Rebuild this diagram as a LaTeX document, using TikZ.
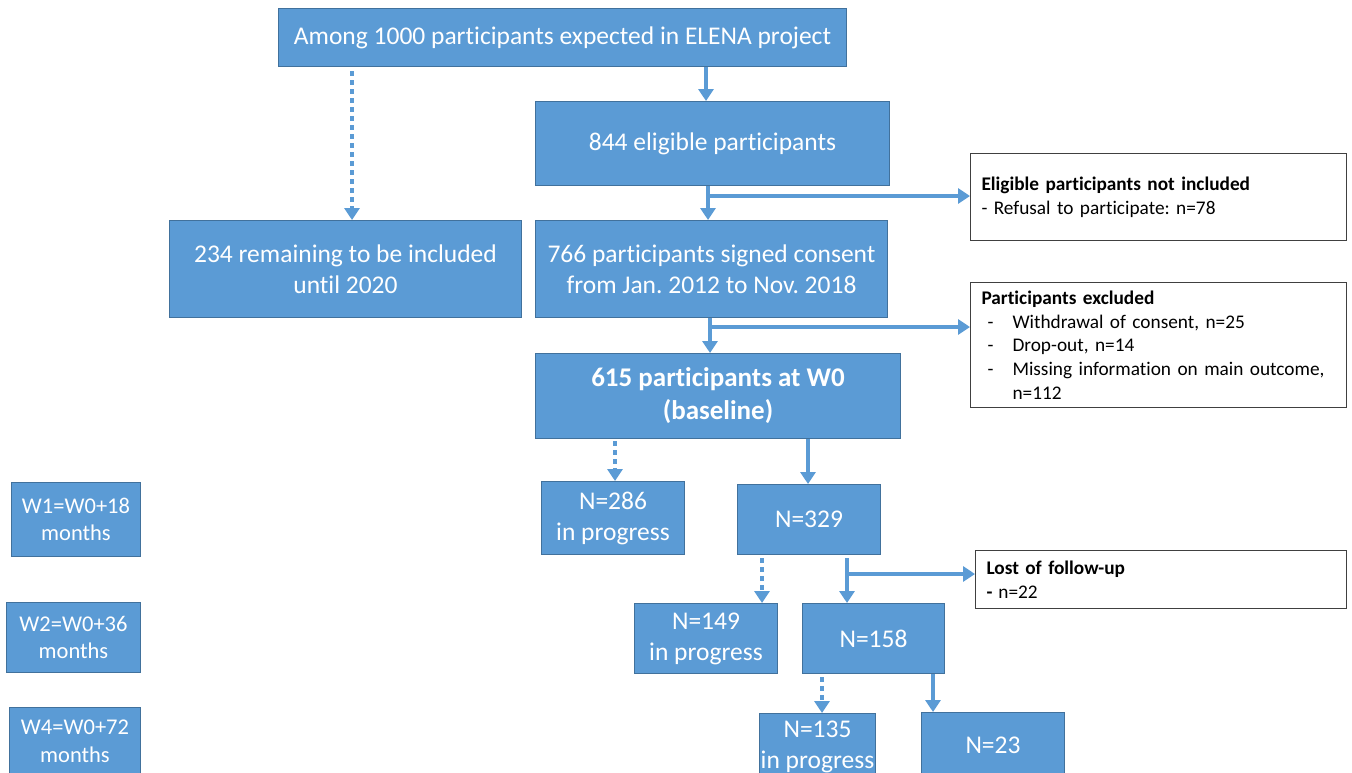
\documentclass[tikz,border=0pt]{standalone}
\usepackage{fontspec}
\setmainfont{Carlito}[Ligatures=NoCommon]
\usetikzlibrary{arrows.meta}
\definecolor{bfill}{HTML}{5B9BD5}
\definecolor{bdraw}{HTML}{41719C}
\definecolor{gdraw}{HTML}{404040}
\frenchspacing
\begin{document}
\begin{tikzpicture}[x=1pt,y=-1pt,
  bbox/.style={draw=bdraw, line width=1pt, fill=bfill, text=white, anchor=north west, align=center, inner sep=0pt, font=\fontsize{25.5}{31}\selectfont},
  wavebox/.style={bbox, font=\fontsize{22.5}{27.5}\selectfont},
  wbox/.style={draw=gdraw, line width=1pt, fill=white, anchor=north west, align=left, inner sep=0pt, font=\fontsize{19.3}{23.7}\selectfont},
  arr/.style={draw=bfill, line width=4pt, -{Triangle[width=15pt,length=12pt]}},
  darr/.style={arr, dash pattern=on 5pt off 4pt}]
\useasboundingbox (0,0) rectangle (1352,772);
% main boxes
\node[bbox, minimum width=568pt, minimum height=58pt] (top) at (278,8) {Among 1000 participants expected in ELENA project};
\node[bbox, minimum width=354pt, minimum height=84pt] (n844) at (535,101) {844 eligible participants};
\node[bbox, minimum width=352pt, minimum height=97pt] (n234) at (169,220) {234 remaining to be included\\until 2020};
\node[bbox, minimum width=352pt, minimum height=97pt] (n766) at (535,220) {766 participants signed consent\\from Jan. 2012 to Nov. 2018};
\node[bbox, minimum width=365pt, minimum height=85pt, font=\bfseries\fontsize{27}{33}\selectfont] (n615) at (535,353) {615 participants at W0\\(baseline)};
\node[bbox, minimum width=143pt, minimum height=73pt] (n286) at (541,481) {N=286\\in progress};
\node[bbox, minimum width=143pt, minimum height=70pt] (n329) at (737,484) {N=329};
\node[bbox, minimum width=143pt, minimum height=70pt] (n149) at (634,603) {N=149\\in progress};
\node[bbox, minimum width=142pt, minimum height=70pt] (n158) at (802,603) {N=158};
\node[bbox, minimum width=116pt, minimum height=66pt] (n135) at (759,713) {N=135\\in progress};
\node[bbox, minimum width=143pt, minimum height=66pt] (n23) at (921,712) {N=23};
% wave boxes
\node[wavebox, minimum width=129pt, minimum height=74pt] (w1) at (11,482) {W1=W0+18\\months};
\node[wavebox, minimum width=134pt, minimum height=70pt] (w2) at (6,602) {W2=W0+36\\months};
\node[wavebox, minimum width=131pt, minimum height=68pt] (w4) at (9,707) {W4=W0+72\\months};
% side boxes
\node[wbox, minimum width=376pt, minimum height=87pt, text width=354pt] (nel) at (970,153) {\textbf{Eligible participants not included}\\- Refusal to participate: n=78};
\node[wbox, minimum width=376pt, minimum height=125pt, text width=354pt] (nex) at (970,282) {\textbf{Participants excluded}\\\hspace*{6pt}\makebox[25pt][l]{-}Withdrawal of consent, n=25\\\hspace*{6pt}\makebox[25pt][l]{-}Drop-out, n=14\\\hspace*{6pt}\makebox[25pt][l]{-}Missing information on main outcome,\\\hspace*{31pt}n=112};
\node[wbox, minimum width=371pt, minimum height=58pt, text width=349pt] (nlost) at (975,550) {\textbf{Lost of follow-up}\\\textbf{-}\hspace{6pt}n=22};
% connector positions
\coordinate (xa) at (706,0);
\coordinate (xb) at (352,0);
\coordinate (xc) at (708,0);
\coordinate (yc) at (0,196);
\coordinate (xd) at (710,0);
\coordinate (yd) at (0,327);
\coordinate (xe) at (615,0);
\coordinate (xf) at (808,0);
\coordinate (xg) at (762,0);
\coordinate (xh) at (847,0);
\coordinate (yh) at (0,574);
\coordinate (xi) at (822,0);
\coordinate (xj) at (933,0);
% connectors
\draw[arr] (top.south -| xa) -- (n844.north -| xa);
\draw[darr, shorten <=4pt] (top.south -| xb) -- (n234.north -| xb);
\draw[arr] (n844.south -| xc) -- (n766.north -| xc);
\draw[arr] (xc |- yc) -- (nel.west |- yc);
\draw[arr] (n766.south -| xd) -- (n615.north -| xd);
\draw[arr] (xd |- yd) -- (nex.west |- yd);
\draw[darr, shorten <=2pt] (n615.south -| xe) -- (n286.north -| xe);
\draw[arr] (n615.south -| xf) -- (n329.north -| xf);
\draw[darr, shorten <=3pt] (n329.south -| xg) -- (n149.north -| xg);
\draw[arr, shorten <=3pt] (n329.south -| xh) -- (n158.north -| xh);
\draw[arr] (xh |- yh) -- (nlost.west |- yh);
\draw[darr, shorten <=3pt] (n158.south -| xi) -- (n135.north -| xi);
\draw[arr] (n158.south -| xj) -- (n23.north -| xj);
\end{tikzpicture}
\end{document}
